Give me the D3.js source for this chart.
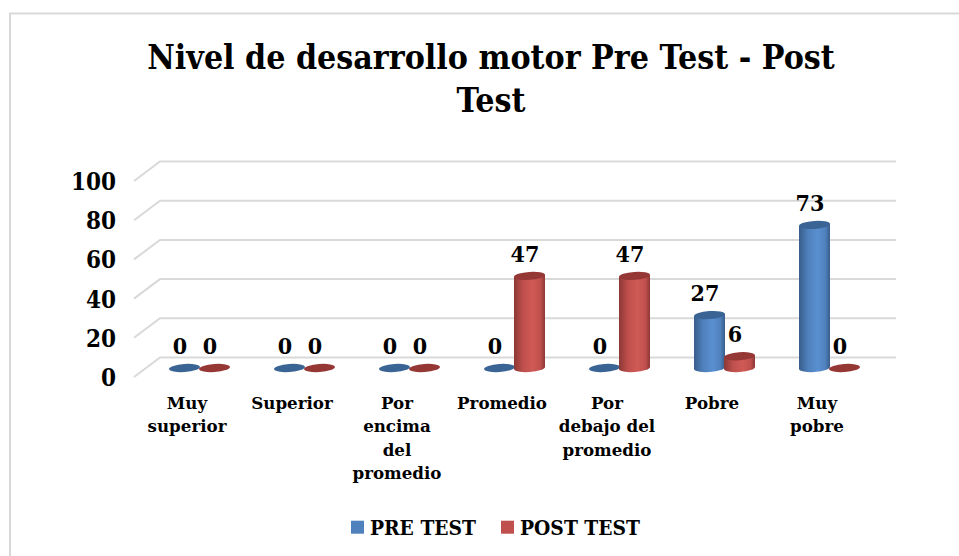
<!DOCTYPE html>
<html><head><meta charset="utf-8">
<script src="https://cdn.jsdelivr.net/npm/d3@7"></script>
<style>html,body{margin:0;background:#fff}svg{display:block}text{font-family:"DejaVu Serif","Liberation Serif",serif;font-weight:700;fill:#000}.c{font-family:"DejaVu Serif Condensed","DejaVu Serif",serif}</style>
</head><body><svg id="c" width="959" height="556"></svg>
<script>
const titleLines=["Nivel de desarrollo motor Pre Test - Post","Test"];
const categories=["Muy superior","Superior","Por encima del promedio","Promedio","Por debajo del promedio","Pobre","Muy pobre"];
const categoryLines=[["Muy","superior"],["Superior"],["Por","encima","del","promedio"],["Promedio"],["Por","debajo del","promedio"],["Pobre"],["Muy","pobre"]];
const seriesNames=["PRE TEST","POST TEST"];
const preTest=[0,0,0,0,0,27,73];
const postTest=[0,0,0,47,47,6,0];
const yTicks=[0,20,40,60,80,100];
const W=959,H=556;
const svg=d3.select("#c");
const defs=svg.append("defs");
const cols=[{id:"b",dark:"#385d8a",mid:"#4f81bd",light:"#5a8fd0",top:"#3a6494"},{id:"r",dark:"#8c3836",mid:"#c0504d",light:"#cf5a56",top:"#953735"}];
cols.forEach(c=>{const g=defs.append("linearGradient").attr("id",c.id);
 [[0,c.dark],[.3,c.mid],[.6,c.light],[.85,c.mid],[1,c.dark]].forEach(s=>g.append("stop").attr("offset",s[0]).attr("stop-color",s[1]));});
svg.append("rect").attr("x",10).attr("y",13.5).attr("width",W+20).attr("height",H+20).attr("fill","#fff").attr("stroke","#d9d9d9").attr("stroke-width",2);
const y=d3.scaleLinear().domain([0,100]).range([377,181]);
const dx=26,dy=-19.5,gridEnd=896;
const x0=d3.scaleBand().domain(categories).range([147,882]);
const step=x0.step();
yTicks.forEach(t=>{const py=y(t);
 svg.append("path").attr("d",d3.line()([[134,py],[134+dx,py+dy],[gridEnd,py+dy]])).attr("fill","none").attr("stroke","#d9d9d9").attr("stroke-width",2);
 svg.append("text").attr("class","c").attr("x",116).attr("y",py+9).attr("text-anchor","end").attr("font-size",24).text(t);});
svg.append("g").selectAll("text").data(titleLines).join("text").attr("class","c").attr("x",491).attr("y",(d,i)=>69+i*43).attr("text-anchor","middle").attr("font-size",33.6).text(d=>d);
const baseY=y(0)-9,rx=15.5,ry=4,tilt=-4;
const cx=(ci,si)=>x0(categories[ci])+step/2+(si?15:-15);
[preTest,postTest].forEach((vals,si)=>{const c=cols[si];
 vals.forEach((v,ci)=>{const X=cx(ci,si),h=y(0)-y(v),T=baseY-h,s=rx*Math.sin(tilt*Math.PI/180);
  if(v>0){svg.append("path").attr("d",`M${X-rx},${T-s}L${X-rx},${baseY-s}A${rx},${ry} ${tilt} 0 0 ${X+rx},${baseY+s}L${X+rx},${T+s}Z`).attr("fill",`url(#${c.id})`);}
  svg.append("ellipse").attr("rx",rx).attr("ry",ry).attr("transform",`translate(${X},${T}) rotate(${tilt})`).attr("fill",c.top);
  svg.append("text").attr("class","c").attr("x",X-4.5).attr("y",T-14).attr("text-anchor","middle").attr("font-size",23).text(v);
 });});
categoryLines.forEach((ls,ci)=>{const X=x0(categories[ci])+step/2-12.5;
 ls.forEach((l,i)=>svg.append("text").attr("x",X).attr("y",409+i*23.3).attr("text-anchor","middle").attr("font-size",16.7).text(l));});
const lg=[[351,"#4f81bd",370],[501,"#c0504d",520]];
seriesNames.forEach((n,i)=>{svg.append("rect").attr("x",lg[i][0]).attr("y",520.7).attr("width",13).attr("height",13).attr("fill",lg[i][1]);
 svg.append("text").attr("class","c").attr("x",lg[i][2]).attr("y",535).attr("font-size",20.8).text(n);});
</script></body></html>
